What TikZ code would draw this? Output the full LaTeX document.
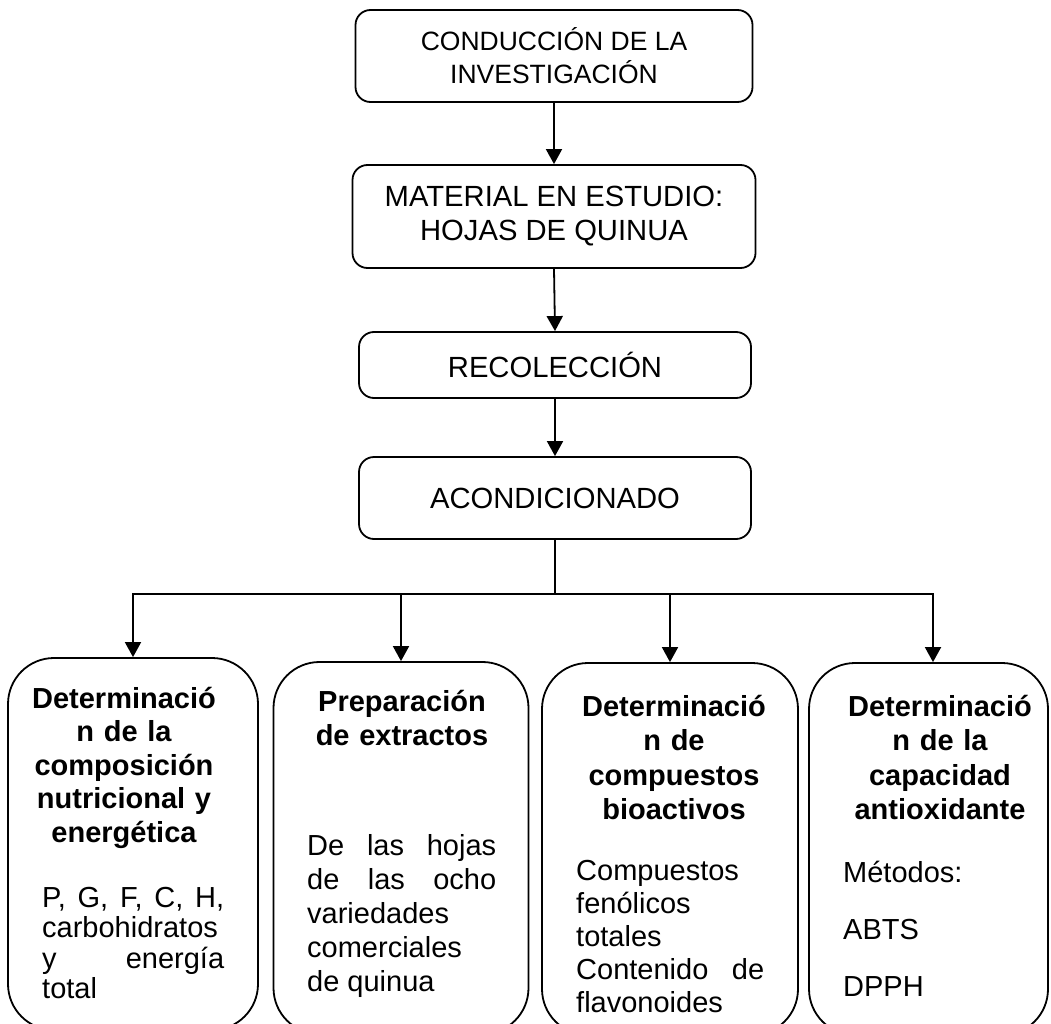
\documentclass[tikz,border=0pt]{standalone}
\usepackage{fontspec}
\setmainfont{Liberation Sans}
\usetikzlibrary{arrows.meta,positioning}
\begin{document}
\begin{tikzpicture}[x=1pt,y=-1pt,
  etapa/.style={draw,line width=1.8pt,rounded corners=15pt,align=center,inner sep=0pt,font=\fontsize{29.2}{34}\selectfont},
  analisis/.style={draw,line width=1.8pt,rounded corners=46pt,inner sep=0pt,minimum height=372pt},
  titulo/.style={anchor=base,inner sep=0pt,text width=240pt,align=center,font=\bfseries\fontsize{29}{34}\selectfont},
  detalle/.style={anchor=base west,inner sep=0pt,align=justify,font=\fontsize{29}{34}\selectfont},
  flecha/.style={line width=1.8pt,-{Triangle[length=15pt,width=16pt]}},
  linea/.style={line width=1.8pt}]
\useasboundingbox (0,0) rectangle (1051,1024);
\node[etapa,minimum width=397pt,minimum height=92pt,font=\fontsize{26.5}{33}\selectfont] (conduccion) at (554,56) {CONDUCCIÓN DE LA\\INVESTIGACIÓN};
\node[etapa,minimum width=403pt,minimum height=103pt] (material) at (554,216.5) {MATERIAL EN ESTUDIO:\\HOJAS DE QUINUA};
\node[etapa,minimum width=392pt,minimum height=66pt] (recoleccion) at (555,365) {RECOLECCIÓN};
\node[etapa,minimum width=392pt,minimum height=82pt] (acondicionado) at (555,498) {ACONDICIONADO};
\node[analisis,minimum width=250pt] (nutricional) at (133,844) {};
\node[analisis,minimum width=255pt] (extractos) at (401,848) {};
\node[analisis,minimum width=256pt] (bioactivos) at (670,849) {};
\node[analisis,minimum width=239pt] (antioxidante) at (928.5,849) {};
\coordinate (rama) at (555,594);
\draw[flecha] (conduccion.south) -- (material.north);
\draw[flecha] (material.south) -- (recoleccion.north);
\draw[flecha] (recoleccion.south) -- (acondicionado.north);
\draw[linea] (acondicionado.south) -- (rama);
\draw[flecha] (rama) -| (nutricional.north);
\draw[flecha] (rama) -| (extractos.north);
\draw[flecha] (rama) -| (bioactivos.north);
\draw[flecha] (rama) -| ([xshift=4.5pt]antioxidante.north);
\node[titulo,font=\bfseries\fontsize{29}{33.5}\selectfont] (tnutricional) at (124,708) {Determinació\\n de la\\composición\\nutricional y\\energética};
\node[detalle,text width=182pt,font=\fontsize{29}{30.5}\selectfont] (dnutricional) at (42,907) {P, G, F, C, H,\linebreak carbohidratos\linebreak y energía\linebreak total};
\node[titulo] (textractos) at (402,711) {Preparación\\de extractos};
\node[detalle,text width=189pt] (dextractos) at (307,855) {De las hojas\linebreak de las ocho\linebreak variedades\linebreak comerciales\linebreak de quinua};
\node[titulo,font=\bfseries\fontsize{29}{34.5}\selectfont] (tbioactivos) at (674,716) {Determinació\\n de\\compuestos\\bioactivos};
\node[detalle,text width=188pt,font=\fontsize{29}{33}\selectfont] (dbioactivos) at (576,880) {Compuestos\linebreak fenólicos\linebreak totales\linebreak Contenido de\linebreak flavonoides};
\node[titulo,font=\bfseries\fontsize{29}{34.5}\selectfont] (tantioxidante) at (940,716) {Determinació\\n de la\\capacidad\\antioxidante};
\node[detalle,text width=190pt,align=left,font=\fontsize{29}{57}\selectfont] (dantioxidante) at (843,882) {Métodos:\\ABTS\\DPPH};
\end{tikzpicture}
\end{document}
